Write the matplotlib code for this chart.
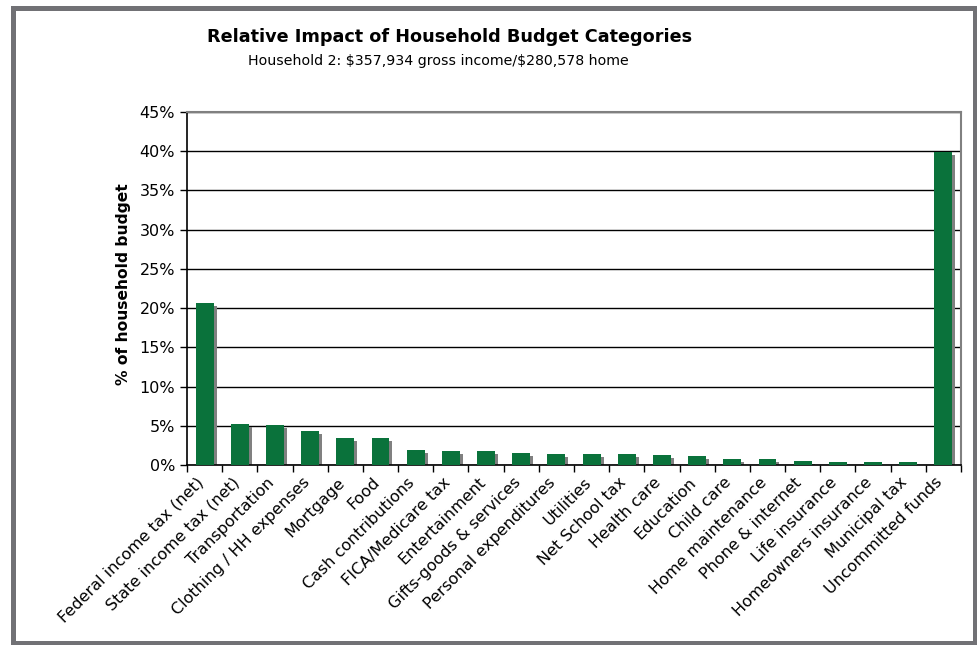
import numpy as np
import matplotlib
matplotlib.use("Agg")
import matplotlib.pyplot as plt
from matplotlib.patches import Rectangle
from matplotlib.transforms import ScaledTranslation
from matplotlib.ticker import PercentFormatter, FixedLocator

# 予算カテゴリ（家計2）
categories = [
    "Federal income tax (net)", "State income tax (net)", "Transportation",
    "Clothing / HH expenses", "Mortgage", "Food", "Cash contributions",
    "FICA/Medicare tax", "Entertainment", "Gifts-goods & services",
    "Personal expenditures", "Utilities", "Net School tax", "Health care",
    "Education", "Child care", "Home maintenance", "Phone & internet",
    "Life insurance", "Homeowners insurance", "Municipal tax",
    "Uncommitted funds",
]
# 家計予算に占める割合（%）
share_pct = [20.7, 5.25, 5.13, 4.36, 3.47, 3.47, 1.95, 1.82, 1.82, 1.56,
             1.44, 1.44, 1.44, 1.31, 1.18, 0.80, 0.80, 0.55, 0.42, 0.42,
             0.42, 39.86]
y_ticks = [0, 5, 10, 15, 20, 25, 30, 35, 40, 45]

title = "Relative Impact of Household Budget Categories"
subtitle = "Household 2: \\$357,934 gross income/\\$280,578 home"

plt.rcParams['font.family'] = ['DejaVu Sans']

fig = plt.figure(figsize=(9.77, 6.45), dpi=100)
ax = fig.add_axes([0.1914, 0.279, 0.7922, 0.5474])

x = np.arange(len(categories))
vals = np.array(share_pct)
width = 0.51

# 影（グレーのバーを右下にずらす）
shadow_dx = 0.085
shadow_dy = 0.38
ax.bar(x + shadow_dx, np.clip(vals - shadow_dy, 0, None), width=width,
       color="#808080", zorder=2)
ax.bar(x, vals, width=width, color="#0a723b", zorder=3)

ax.set_xlim(-0.5, len(categories) - 0.5)
ax.set_ylim(0, 45)
ax.yaxis.set_major_locator(FixedLocator(y_ticks))
ax.yaxis.set_major_formatter(PercentFormatter(decimals=0))
ax.grid(axis="y", color="black", linewidth=1.0, zorder=1)
ax.set_axisbelow(True)

# x軸の目盛りはカテゴリの境界に
ax.set_xticks(np.arange(len(categories) + 1) - 0.5, minor=False)
ax.set_xticklabels([])
ax.set_xticks(x, minor=True)
ax.set_xticklabels(categories, minor=True, rotation=45, ha="right",
                   rotation_mode="anchor", fontsize=11.5)
ax.tick_params(axis="x", which="minor", length=0, pad=7)
ax.tick_params(axis="x", which="major", length=5, width=1, direction="out")
ax.tick_params(axis="y", length=5, width=1, labelsize=11.5, direction="out")

# ラベルを少し左へ
shift = ScaledTranslation(-6 / 72, 0, fig.dpi_scale_trans)
for lbl in ax.get_xticklabels(minor=True):
    lbl.set_transform(lbl.get_transform() + shift)

for side in ["left", "bottom"]:
    ax.spines[side].set_color("black")
    ax.spines[side].set_linewidth(1.2)
for side in ["top", "right"]:
    ax.spines[side].set_color("#808080")
    ax.spines[side].set_linewidth(1.5)

fig.text(0.1269, 0.56, "% of household budget", rotation=90, fontsize=11.2,
         fontweight="bold", ha="center", va="center")

fig.text(0.4606, 0.943, title, fontsize=12.7, fontweight="bold",
         ha="center", va="center")
fig.text(0.4488, 0.906, subtitle, fontsize=10.2, ha="center", va="center")

# 外枠
fig.patches.append(Rectangle((12.5 / 977, 2.5 / 645), 962 / 977, 635 / 645,
                             transform=fig.transFigure, fill=False,
                             edgecolor="#717175", linewidth=3.6))

fig.savefig("out.png", dpi=100)
